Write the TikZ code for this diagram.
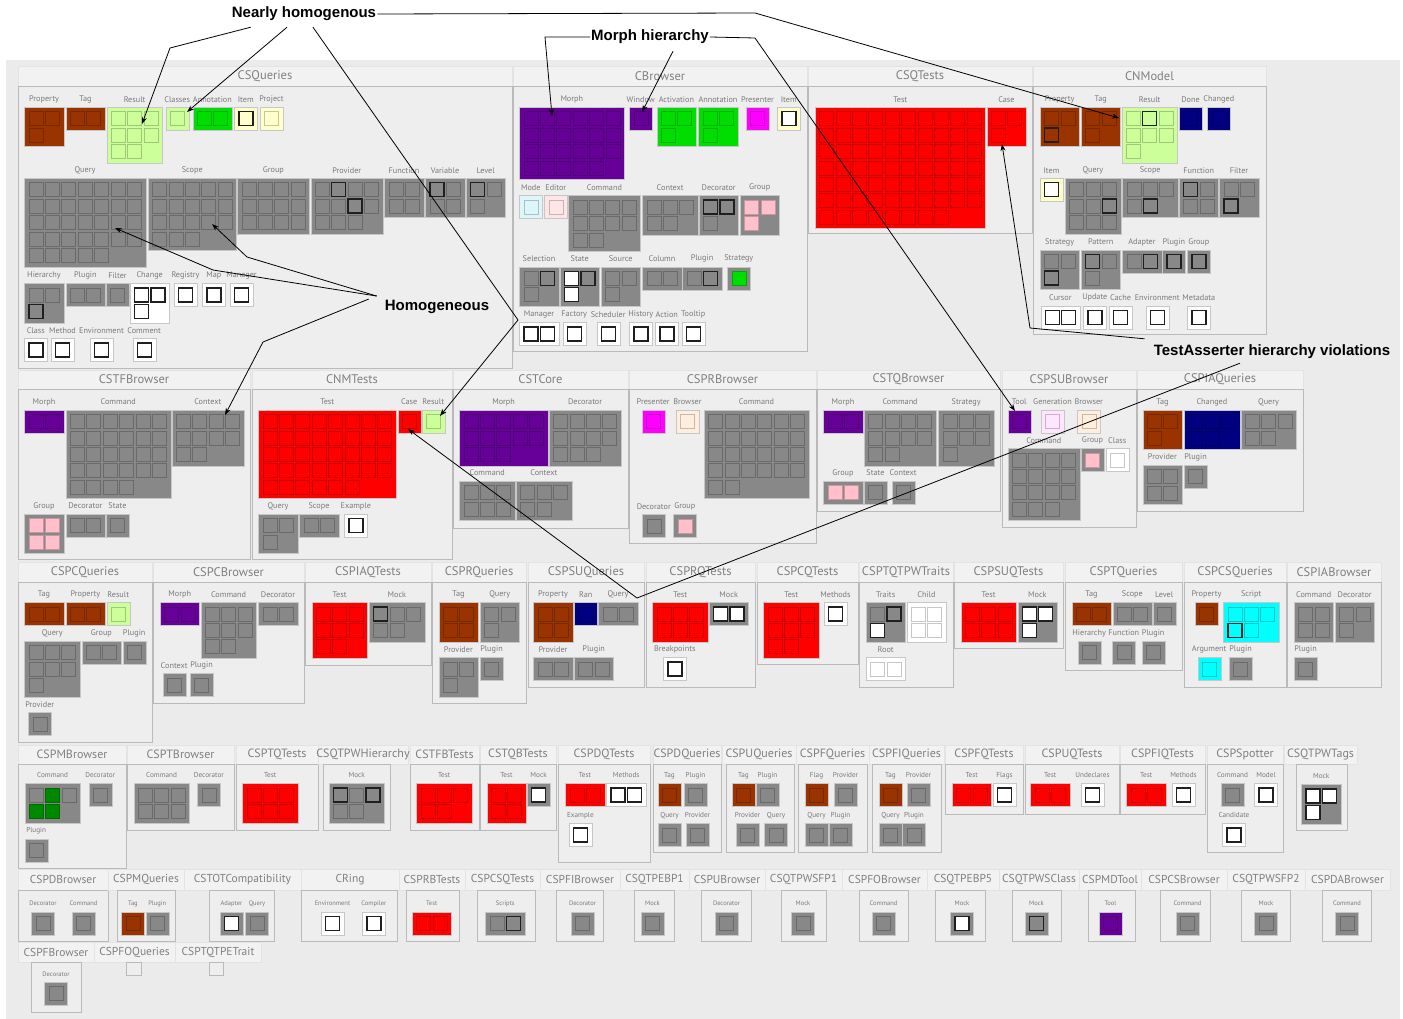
\documentclass[tikz,border=0pt]{standalone}
\usepackage{fontspec}
\usepackage{tikz}
\usetikzlibrary{arrows.meta,calc}
\newfontfamily\lblfont{PT Sans}
\newfontfamily\callfont{Liberation Sans}
\definecolor{cBg}{HTML}{EBEBEB}
\definecolor{cBrown}{HTML}{993300}
\definecolor{cLGreen}{HTML}{CCFF99}
\definecolor{cGreen}{HTML}{00DD00}
\definecolor{cDGreen}{HTML}{008800}
\definecolor{cCream}{HTML}{FFFFCC}
\definecolor{cPurple}{HTML}{660099}
\definecolor{cMagenta}{HTML}{FF00FF}
\definecolor{cLBlue}{HTML}{DDF6FA}
\definecolor{cLPink}{HTML}{FFE6E6}
\definecolor{cPink}{HTML}{FFC0CB}
\definecolor{cRed}{HTML}{FF0000}
\definecolor{cNavy}{HTML}{000080}
\definecolor{cCyan}{HTML}{00FFFF}
\definecolor{cGray}{HTML}{888888}
\definecolor{cPeach}{HTML}{FFEEDD}
\definecolor{cLav}{HTML}{FFE6FF}
\colorlet{labeltext}{black!52}

\newcounter{grpno}
% group: x, y, cols, cells, box colour, cell style, label, special cells k/colour/style
\newcommand{\grp}[8]{%
  \stepcounter{grpno}%
  \pgfmathtruncatemacro{\grows}{ceil(#4/#3)}%
  \pgfmathsetmacro{\gw}{23+16.4*(#3-1)}%
  \pgfmathsetmacro{\gh}{23+16.4*(\grows-1)}%
  \path[grpbox, fill=#5] (#1,#2) rectangle ++(\gw,\gh);%
  \node[grplabel] (g\arabic{grpno}) at ({#1+\gw/2},{#2-8}) {#7};%
  \foreach \k in {1,...,#4}{%
    \pgfmathtruncatemacro{\cc}{mod(\k-1,#3)}%
    \pgfmathtruncatemacro{\rr}{(\k-1)/#3}%
    \path[cell, #6] ({#1+4.5+16.4*\cc},{#2+4.5+16.4*\rr}) rectangle ++(14,14);%
  }%
  \ifx\relax#8\relax\else
    \foreach \k/\f/\s in {#8}{%
      \pgfmathtruncatemacro{\cc}{mod(\k-1,#3)}%
      \pgfmathtruncatemacro{\rr}{(\k-1)/#3}%
      \path[cell, c=\f, \s] ({#1+4.5+16.4*\cc},{#2+4.5+16.4*\rr}) rectangle ++(14,14);%
    }%
  \fi
}
% package: title, strip x1, strip x2, box x1, box x2, strip top, box top, box bottom
\newcommand{\pkg}[8]{%
  \path[pkgstrip] (#2,#6) rectangle (#3,#7);
  \path[pkgbox] (#4,#7) rectangle (#5,#8);
  \node[pkgtitle] (#1) at ({(#2+#3)/2},{(#6+#7)/2}) {#1};
}

\begin{document}
\begin{tikzpicture}[x=1pt, y=-1pt,
  pkgstrip/.style={fill=black!5, draw=black!11, line width=0.5pt},
  pkgbox/.style={fill=black!6.5, draw=black!27, line width=0.8pt},
  pkgtitle/.style={font=\lblfont\fontsize{12.5}{13}\selectfont, text=black!50, inner sep=0pt},
  grpbox/.style={draw=black!22, line width=0.4pt},
  grplabel/.style={font=\lblfont\fontsize{8.2}{9}\selectfont, text=labeltext, inner sep=0pt},
  cell/.style={line width=0.6pt},
  c/.style={fill=#1, draw=#1!78!black},
  hl/.style={draw=black!88, line width=1.4pt},
  pl/.style={},
  callout/.style={font=\callfont\bfseries\fontsize{15}{17}\selectfont, inner sep=1pt},
  leader/.style={draw=black, line width=0.8pt, -{Stealth[length=7pt,width=5pt]}}
]
\useasboundingbox (0,0) rectangle (1403,1019);
\fill[cBg] (6,60) rectangle (1400,1019);

% ---------- Row 1 ----------
\pkg{CSQueries}{18}{512}{18}{512}{66}{86}{368}
\grp{24.3}{107.3}{2}{3}{cBrown}{c=cBrown}{Property}{}
\grp{65.7}{107.3}{2}{2}{cBrown}{c=cBrown}{Tag}{}
\grp{106.7}{107.3}{3}{8}{cLGreen}{c=cLGreen}{Result}{}
\grp{165.7}{107.3}{1}{1}{cLGreen}{c=cLGreen}{Classes}{}
\grp{192.7}{107.3}{2}{2}{cGreen}{c=cGreen}{Annotation}{}
\grp{234.3}{107.3}{1}{1}{cCream}{c=cCream,hl}{Item}{}
\grp{260}{107.3}{1}{1}{cCream}{c=cCream}{Project}{}
\grp{24.3}{178.3}{7}{33}{cGray}{c=cGray}{Query}{}
\grp{148}{178.3}{5}{18}{cGray}{c=cGray}{Scope}{}
\grp{237.3}{178.3}{4}{12}{cGray}{c=cGray}{Group}{}
\grp{310.7}{178.3}{4}{11}{cGray}{c=cGray}{Provider}{2/cGray/hl,7/cGray/hl}
\grp{384.3}{178.3}{2}{4}{cGray}{c=cGray}{Function}{}
\grp{425.3}{178.3}{2}{4}{cGray}{c=cGray}{Variable}{1/cGray/hl}
\grp{466}{178.3}{2}{3}{cGray}{c=cGray}{Level}{1/cGray/hl}
\grp{24.3}{283.3}{2}{3}{cGray}{c=cGray}{Hierarchy}{3/cGray/hl}
\grp{65.7}{283.3}{2}{2}{cGray}{c=cGray}{Plugin}{}
\grp{106}{283.3}{1}{1}{cGray}{c=cGray}{Filter}{}
\grp{130}{283.3}{2}{3}{white}{c=white,hl}{Change}{}
\grp{174}{283.3}{1}{1}{white}{c=white,hl}{Registry}{}
\grp{202.3}{283.3}{1}{1}{white}{c=white,hl}{Map}{}
\grp{230}{283.3}{1}{1}{white}{c=white,hl}{Manager}{}
\grp{24.3}{338.3}{1}{1}{white}{c=white,hl}{Class}{}
\grp{51}{338.3}{1}{1}{white}{c=white,hl}{Method}{}
\grp{90}{338.3}{1}{1}{white}{c=white,hl}{Environment}{}
\grp{132.7}{338.3}{1}{1}{white}{c=white,hl}{Comment}{}

\pkg{CBrowser}{513}{807}{513}{807}{66}{86}{351}
\grp{519.3}{107.3}{6}{23}{cPurple}{c=cPurple}{Morph}{}
\grp{629.3}{107.3}{1}{1}{cPurple}{c=cPurple}{Window}{}
\grp{656.7}{107.3}{2}{3}{cGreen}{c=cGreen}{Activation}{}
\grp{698.3}{107.3}{2}{3}{cGreen}{c=cGreen}{Annotation}{}
\grp{746}{107.3}{1}{1}{cMagenta}{c=cMagenta}{Presenter}{}
\grp{777.3}{107.3}{1}{1}{cCream}{c=white,hl}{Item}{}
\grp{519.3}{195.7}{1}{1}{cLBlue}{c=cLBlue}{Mode}{}
\grp{544.3}{195.7}{1}{1}{cLPink}{c=cLPink}{Editor}{}
\grp{568.3}{195.7}{4}{10}{cGray}{c=cGray}{Command}{}
\grp{642.3}{195.7}{3}{5}{cGray}{c=cGray}{Context}{}
\grp{699}{195.7}{2}{3}{cGray}{c=cGray}{Decorator}{1/cGray/hl,2/cGray/hl}
\grp{740}{195.7}{2}{3}{cGray}{c=cPink}{Group}{}
\grp{519.3}{266.7}{2}{3}{cGray}{c=cGray}{Selection}{2/cGray/hl}
\grp{560}{266.7}{2}{3}{cGray}{c=cGray}{State}{1/white/hl,2/cGray/hl,3/white/hl}
\grp{601}{266.7}{2}{3}{cGray}{c=cGray}{Source}{}
\grp{642.3}{266.7}{2}{2}{cGray}{c=cGray}{Column}{}
\grp{682.3}{266.7}{2}{2}{cGray}{c=cGray}{Plugin}{2/cGray/hl}
\grp{727.3}{266.7}{1}{1}{cGray}{c=cGreen}{Strategy}{}
\grp{519.3}{322.3}{2}{2}{white}{c=white,hl}{Manager}{}
\grp{562.7}{322.3}{1}{1}{white}{c=white,hl}{Factory}{}
\grp{596.7}{322.3}{1}{1}{white}{c=white,hl}{Scheduler}{}
\grp{629.3}{322.3}{1}{1}{white}{c=white,hl}{History}{}
\grp{655.3}{322.3}{1}{1}{white}{c=white,hl}{Action}{}
\grp{681.7}{322.3}{1}{1}{white}{c=white,hl}{Tooltip}{}

\pkg{CSQTests}{808}{1032}{808}{1032}{66}{86}{233}
\grp{815}{107.3}{10}{68}{cRed}{c=cRed}{Test}{}
\grp{986.7}{107.3}{2}{3}{cRed}{c=cRed}{Case}{}

\pkg{CNModel}{1033}{1266}{1033}{1266}{66}{86}{334}
\grp{1040}{107.3}{2}{3}{cBrown}{c=cBrown}{Property}{3/cBrown/hl}
\grp{1081}{107.3}{2}{3}{cBrown}{c=cBrown}{Tag}{}
\grp{1121.7}{107.3}{3}{7}{cLGreen}{c=cLGreen}{Result}{2/cLGreen/hl}
\grp{1179}{107.3}{1}{1}{cNavy}{c=cNavy}{Done}{}
\grp{1207.3}{107.3}{1}{1}{cNavy}{c=cNavy}{Changed}{}
\grp{1040}{178.3}{1}{1}{cCream}{c=white,hl}{Item}{}
\grp{1065}{178.3}{3}{9}{cGray}{c=cGray}{Query}{6/cGray/hl}
\grp{1122.3}{178.3}{3}{5}{cGray}{c=cGray}{Scope}{5/cGray/hl}
\grp{1179}{178.3}{2}{4}{cGray}{c=cGray}{Function}{1/cGray/hl}
\grp{1219.3}{178.3}{2}{3}{cGray}{c=cGray}{Filter}{3/cGray/hl}
\grp{1040}{250}{2}{3}{cGray}{c=cGray}{Strategy}{3/cGray/hl}
\grp{1081}{250}{2}{3}{cGray}{c=cGray}{Pattern}{1/cGray/hl}
\grp{1122.3}{250}{2}{2}{cGray}{c=cGray}{Adapter}{2/cGray/hl}
\grp{1162.3}{250}{1}{1}{cGray}{c=cGray,hl}{Plugin}{}
\grp{1187.3}{250}{1}{1}{cGray}{c=cGray,hl}{Group}{}
\grp{1040.7}{305.7}{2}{2}{white}{c=white,hl}{Cursor}{}
\grp{1083.3}{305.7}{1}{1}{white}{c=white,hl}{Update}{}
\grp{1109}{305.7}{1}{1}{white}{c=white,hl}{Cache}{}
\grp{1145.7}{305.7}{1}{1}{white}{c=white,hl}{Environment}{}
\grp{1187.3}{305.7}{1}{1}{white}{c=white,hl}{Metadata}{}

% ---------- Row 2 ----------
\pkg{CSTFBrowser}{18}{250}{18}{250}{370}{389}{559}
\grp{24.3}{410}{2}{2}{cPurple}{c=cPurple}{Morph}{}
\grp{65.7}{410}{6}{28}{cGray}{c=cGray}{Command}{}
\grp{171.7}{410}{4}{10}{cGray}{c=cGray}{Context}{}
\grp{24.3}{514}{2}{4}{cGray}{c=cPink}{Group}{}
\grp{65.7}{514}{2}{2}{cGray}{c=cGray}{Decorator}{}
\grp{106}{514}{1}{1}{cGray}{c=cGray}{State}{}

\pkg{CNMTests}{252}{452}{252}{452}{370}{389}{559}
\grp{258.3}{410}{8}{38}{cRed}{c=cRed}{Test}{}
\grp{397.7}{410}{1}{1}{cRed}{c=cRed}{Case}{}
\grp{421.7}{410}{1}{1}{cLGreen}{c=cLGreen}{Result}{}
\grp{258.3}{514}{2}{3}{cGray}{c=cGray}{Query}{}
\grp{299.3}{514}{2}{2}{cGray}{c=cGray}{Scope}{}
\grp{344.3}{514}{1}{1}{white}{c=white,hl}{Example}{}

\pkg{CSTCore}{453}{628}{453}{628}{370}{389}{528}
\grp{459.3}{410}{5}{13}{cPurple}{c=cPurple}{Morph}{}
\grp{549}{410}{4}{11}{cGray}{c=cGray}{Decorator}{}
\grp{459.3}{481}{3}{6}{cGray}{c=cGray}{Command}{}
\grp{516}{481}{3}{5}{cGray}{c=cGray}{Context}{}

\pkg{CSPRBrowser}{629}{816}{629}{816}{370}{389}{543}
\grp{641.7}{410}{1}{1}{cMagenta}{c=cMagenta}{Presenter}{}
\grp{676}{410}{1}{1}{cPeach}{c=cPeach}{Browser}{}
\grp{704}{410}{6}{26}{cGray}{c=cGray}{Command}{}
\grp{642.3}{514.3}{1}{1}{cGray}{c=cGray}{Decorator}{}
\grp{673.3}{514.3}{1}{1}{cGray}{c=cPink}{Group}{}

\pkg{CSTQBrowser}{817}{1000}{817}{1000}{370}{389}{511}
\grp{823.3}{410}{2}{2}{cPurple}{c=cPurple}{Morph}{}
\grp{864}{410}{4}{10}{cGray}{c=cGray}{Command}{}
\grp{938.3}{410}{3}{7}{cGray}{c=cGray}{Strategy}{}
\grp{823.3}{481}{2}{2}{cGray}{c=cPink}{Group}{}
\grp{864}{481}{1}{1}{cGray}{c=cGray}{State}{}
\grp{891.7}{481}{1}{1}{cGray}{c=cGray}{Context}{}

\pkg{CSPSUBrowser}{1002}{1136}{1002}{1136}{370}{389}{527}
\grp{1007.7}{410}{1}{1}{cPurple}{c=cPurple}{Tool}{}
\grp{1041}{410}{1}{1}{cLav}{c=cLav}{Generation}{}
\grp{1077.3}{410}{1}{1}{cPeach}{c=cPeach}{Browser}{}
\grp{1007.7}{448.3}{4}{15}{cGray}{c=cGray}{Command}{}
\grp{1081}{448.3}{1}{1}{cGray}{c=cPink}{Group}{}
\grp{1105.7}{448.3}{1}{1}{white}{c=white}{Class}{}

\pkg{CSPIAQueries}{1137}{1303}{1137}{1303}{370}{389}{511}
\grp{1142.7}{410}{2}{3}{cBrown}{c=cBrown}{Tag}{}
\grp{1184}{410}{3}{5}{cNavy}{c=cNavy}{Changed}{}
\grp{1240.7}{410}{3}{5}{cGray}{c=cGray}{Query}{}
\grp{1142.7}{465}{2}{4}{cGray}{c=cGray}{Provider}{}
\grp{1184}{465}{1}{1}{cGray}{c=cGray}{Plugin}{}

% ---------- Row 3 ----------
\pkg{CSPCQueries}{18}{152}{18}{152}{562}{582}{742}
\grp{24.3}{602.3}{2}{2}{cBrown}{c=cBrown}{Tag}{}
\grp{65.7}{602.3}{2}{2}{cBrown}{c=cBrown}{Property}{}
\grp{106.7}{602.3}{1}{1}{cLGreen}{c=cLGreen}{Result}{}
\grp{24.3}{641}{3}{7}{cGray}{c=cGray}{Query}{}
\grp{81.7}{641}{2}{2}{cGray}{c=cGray}{Group}{}
\grp{122.7}{641}{1}{1}{cGray}{c=cGray}{Plugin}{}
\grp{28.3}{712.3}{1}{1}{cGray}{c=cGray}{Provider}{}

\pkg{CSPCBrowser}{153}{304}{153}{304}{562}{582}{703}
\grp{160}{602.3}{2}{2}{cPurple}{c=cPurple}{Morph}{}
\grp{200.7}{602.3}{3}{8}{cGray}{c=cGray}{Command}{}
\grp{258.3}{602.3}{2}{2}{cGray}{c=cGray}{Decorator}{}
\grp{162.7}{673.3}{1}{1}{cGray}{c=cGray}{Context}{}
\grp{190}{673.3}{1}{1}{cGray}{c=cGray}{Plugin}{}

\pkg{CSPIAQTests}{305}{431}{305}{431}{562}{582}{665}
\grp{311.7}{602.3}{3}{8}{cRed}{c=cRed}{Test}{}
\grp{369}{602.3}{3}{5}{cGray}{c=cGray}{Mock}{1/cGray/hl}

\pkg{CSPRQueries}{432}{526}{432}{526}{562}{582}{703}
\grp{438.7}{602.3}{2}{4}{cBrown}{c=cBrown}{Tag}{}
\grp{480}{602.3}{2}{3}{cGray}{c=cGray}{Query}{}
\grp{438.7}{657.3}{2}{3}{cGray}{c=cGray}{Provider}{}
\grp{480}{657.3}{1}{1}{cGray}{c=cGray}{Plugin}{}

\pkg{CSPSUQueries}{528}{644}{528}{644}{562}{582}{687}
\grp{533.3}{602.3}{2}{4}{cBrown}{c=cBrown}{Property}{}
\grp{574.3}{602.3}{1}{1}{cNavy}{c=cNavy}{Ran}{}
\grp{598.3}{602.3}{2}{2}{cGray}{c=cGray}{Query}{}
\grp{533.3}{657.3}{2}{2}{cGray}{c=cGray}{Provider}{}
\grp{574}{657.3}{2}{2}{cGray}{c=cGray}{Plugin}{}

\pkg{CSPRQTests}{646}{755}{646}{755}{562}{582}{687}
\grp{652.3}{602.3}{3}{6}{cRed}{c=cRed}{Test}{}
\grp{709}{602.3}{2}{2}{cGray}{c=white,hl}{Mock}{}
\grp{663.3}{657.3}{1}{1}{white}{c=white,hl}{Breakpoints}{}

\pkg{CSPCQTests}{757}{858}{757}{858}{562}{582}{664}
\grp{763.3}{602.3}{3}{8}{cRed}{c=cRed}{Test}{}
\grp{824}{602.3}{1}{1}{white}{c=white,hl}{Methods}{}

\pkg{CSPTQTPWTraits}{859}{953}{859}{953}{562}{582}{687}
\grp{866}{602.3}{2}{3}{cGray}{c=cGray}{Traits}{2/cGray/hl,3/white/hl}
\grp{906.7}{602.3}{2}{4}{white}{c=white}{Child}{}
\grp{866}{657.3}{2}{2}{white}{c=white}{Root}{}

\pkg{CSPSUQTests}{954}{1063}{954}{1063}{562}{582}{648}
\grp{960.7}{602.3}{3}{6}{cRed}{c=cRed}{Test}{}
\grp{1017.7}{602.3}{2}{3}{cGray}{c=white,hl}{Mock}{}

\pkg{CSPTQueries}{1065}{1182}{1065}{1182}{562}{582}{670}
\grp{1071.7}{602.3}{2}{2}{cBrown}{c=cBrown}{Tag}{}
\grp{1112.7}{602.3}{2}{2}{cGray}{c=cGray}{Scope}{}
\grp{1152.7}{602.3}{1}{1}{cGray}{c=cGray}{Level}{}
\grp{1077.7}{641}{1}{1}{cGray}{c=cGray}{Hierarchy}{}
\grp{1112.3}{641}{1}{1}{cGray}{c=cGray}{Function}{}
\grp{1141.7}{641}{1}{1}{cGray}{c=cGray}{Plugin}{}

\pkg{CSPCSQueries}{1184}{1286}{1184}{1286}{562}{582}{687}
\grp{1195}{602.3}{1}{1}{cBrown}{c=cBrown}{Property}{}
\grp{1223.3}{602.3}{3}{5}{cCyan}{c=cCyan}{Script}{4/cCyan/hl}
\grp{1197.7}{657.3}{1}{1}{cCyan}{c=cCyan}{Argument}{}
\grp{1229}{657.3}{1}{1}{cGray}{c=cGray}{Plugin}{}

\pkg{CSPIABrowser}{1287}{1381}{1287}{1381}{562}{582}{687}
\grp{1294}{602.3}{2}{4}{cGray}{c=cGray}{Command}{}
\grp{1335}{602.3}{2}{3}{cGray}{c=cGray}{Decorator}{}
\grp{1294}{657.3}{1}{1}{cGray}{c=cGray}{Plugin}{}

% ---------- Row 4 ----------
\begin{scope}[pkgtitle/.append style={font=\lblfont\fontsize{12}{13}\selectfont},
              grplabel/.append style={font=\lblfont\fontsize{7.2}{8}\selectfont}]
\pkg{CSPMBrowser}{18}{126}{18}{126}{745}{764}{868}
\grp{24.7}{783.3}{3}{5}{cGray}{c=cGray}{Command}{2/cDGreen/pl,4/cDGreen/pl,5/cDGreen/pl}
\grp{88.8}{783.3}{1}{1}{cGray}{c=cGray}{Decorator}{}
\grp{24.7}{839}{1}{1}{cGray}{c=cGray}{Plugin}{}
\pkg{CSPTBrowser}{127}{234}{127}{234}{745}{764}{830}
\grp{133.7}{783.3}{3}{6}{cGray}{c=cGray}{Command}{}
\grp{197.4}{783.3}{1}{1}{cGray}{c=cGray}{Decorator}{}
\pkg{CSPTQTests}{236}{318}{236}{318}{745}{764}{830}
\grp{242.3}{783.3}{3}{6}{cRed}{c=cRed}{Test}{}
\pkg{CSQTPWHierarchy}{318}{408}{323}{390}{745}{764}{830}
\grp{328.8}{783.3}{3}{5}{cGray}{c=cGray}{Mock}{1/cGray/hl,3/cGray/hl}
\pkg{CSTFBTests}{410}{479}{410}{479}{745}{764}{830}
\grp{416.3}{783.3}{3}{5}{cRed}{c=cRed}{Test}{}
\pkg{CSTQBTests}{480}{556}{480}{556}{745}{764}{830}
\grp{486.8}{783.3}{2}{4}{cRed}{c=cRed}{Test}{}
\grp{527.1}{783.3}{1}{1}{cGray}{c=white,hl}{Mock}{}
\pkg{CSPDQTests}{558}{650}{558}{650}{745}{764}{862}
\grp{565.3}{783.3}{2}{2}{cRed}{c=cRed}{Test}{}
\grp{606.5}{783.3}{2}{2}{white}{c=white,hl}{Methods}{}
\grp{568.9}{823.3}{1}{1}{white}{c=white,hl}{Example}{}
\pkg{CSPDQueries}{653}{721}{653}{721}{745}{764}{852}
\grp{658}{783.3}{1}{1}{cBrown}{c=cBrown}{Tag}{}
\grp{684}{783.3}{1}{1}{cGray}{c=cGray}{Plugin}{}
\grp{658}{823.3}{1}{1}{cGray}{c=cGray}{Query}{}
\grp{686}{823.3}{1}{1}{cGray}{c=cGray}{Provider}{}
\pkg{CSPUQueries}{722}{796}{726}{794}{745}{764}{852}
\grp{732}{783.3}{1}{1}{cBrown}{c=cBrown}{Tag}{}
\grp{756}{783.3}{1}{1}{cGray}{c=cGray}{Plugin}{}
\grp{736}{823.3}{1}{1}{cGray}{c=cGray}{Provider}{}
\grp{764.5}{823.3}{1}{1}{cGray}{c=cGray}{Query}{}
\pkg{CSPFQueries}{796}{869}{798}{867}{745}{764}{852}
\grp{805}{783.3}{1}{1}{cBrown}{c=cBrown}{Flag}{}
\grp{834}{783.3}{1}{1}{cGray}{c=cGray}{Provider}{}
\grp{805}{823.3}{1}{1}{cGray}{c=cGray}{Query}{}
\grp{829}{823.3}{1}{1}{cGray}{c=cGray}{Plugin}{}
\pkg{CSPFIQueries}{869}{944}{872}{941}{745}{764}{852}
\grp{879}{783.3}{1}{1}{cBrown}{c=cBrown}{Tag}{}
\grp{907}{783.3}{1}{1}{cGray}{c=cGray}{Provider}{}
\grp{879}{823.3}{1}{1}{cGray}{c=cGray}{Query}{}
\grp{902.5}{823.3}{1}{1}{cGray}{c=cGray}{Plugin}{}
\pkg{CSPFQTests}{945}{1023}{945}{1023}{745}{764}{814}
\grp{952}{783.3}{2}{2}{cRed}{c=cRed}{Test}{}
\grp{993}{783.3}{1}{1}{white}{c=white,hl}{Flags}{}
\pkg{CSPUQTests}{1025}{1119}{1025}{1119}{745}{764}{814}
\grp{1030.5}{783.3}{2}{2}{cRed}{c=cRed}{Test}{}
\grp{1081}{783.3}{1}{1}{white}{c=white,hl}{Undeclares}{}
\pkg{CSPFIQTests}{1120}{1205}{1120}{1205}{745}{764}{814}
\grp{1126.5}{783.3}{2}{2}{cRed}{c=cRed}{Test}{}
\grp{1172}{783.3}{1}{1}{white}{c=white,hl}{Methods}{}
\pkg{CSPSpotter}{1207}{1283}{1207}{1283}{745}{764}{852}
\grp{1221}{783.3}{1}{1}{cGray}{c=cGray}{Command}{}
\grp{1254.5}{783.3}{1}{1}{white}{c=white,hl}{Model}{}
\grp{1222.5}{823.3}{1}{1}{white}{c=white,hl}{Candidate}{}
\pkg{CSQTPWTags}{1284}{1357}{1296}{1347}{745}{764}{830}
\grp{1301.5}{784.3}{2}{3}{cGray}{c=white,hl}{Mock}{}
\end{scope}

% ---------- Rows 5 and 6 ----------
\begin{scope}[pkgtitle/.append style={font=\lblfont\fontsize{11.5}{12}\selectfont},
              grplabel/.append style={font=\lblfont\fontsize{6.5}{7}\selectfont}]
\pkg{CSPDBrowser}{18}{108}{18}{108}{869}{890}{941}
\grp{31.5}{911.7}{1}{1}{cGray}{c=cGray}{Decorator}{}
\grp{72}{911.7}{1}{1}{cGray}{c=cGray}{Command}{}
\pkg{CSPMQueries}{108}{184}{117}{175}{869}{890}{941}
\grp{121.4}{911.7}{1}{1}{cBrown}{c=cBrown}{Tag}{}
\grp{145.7}{911.7}{1}{1}{cGray}{c=cGray}{Plugin}{}
\pkg{CSTOTCompatibility}{184}{301}{209}{274}{869}{890}{941}
\grp{220}{911.7}{1}{1}{cGray}{c=white,hl}{Adapter}{}
\grp{245.5}{911.7}{1}{1}{cGray}{c=cGray}{Query}{}
\pkg{CRing}{301}{399}{301}{397}{869}{890}{941}
\grp{321}{911.7}{1}{1}{white}{c=white,hl}{Environment}{}
\grp{362.4}{911.7}{1}{1}{white}{c=white,hl}{Compiler}{}
\pkg{CSPRBTests}{399}{465}{406}{459}{869}{890}{941}
\grp{412}{911.7}{2}{2}{cRed}{c=cRed}{Test}{}
\pkg{CSPCSQTests}{465}{540}{477}{535}{869}{890}{941}
\grp{485.6}{911.7}{2}{2}{cGray}{c=cGray}{Scripts}{2/cGray/hl}
\pkg{CSPFIBrowser}{540}{620}{556}{603}{869}{890}{941}
\grp{571}{911.7}{1}{1}{cGray}{c=cGray}{Decorator}{}
\pkg{CSQTPEBP1}{620}{689}{634}{674}{869}{890}{941}
\grp{641}{911.7}{1}{1}{cGray}{c=cGray}{Mock}{}
\pkg{CSPUBrowser}{689}{765}{701}{751}{869}{890}{941}
\grp{715}{911.7}{1}{1}{cGray}{c=cGray}{Decorator}{}
\pkg{CSQTPWSFP1}{765}{842}{781}{826}{869}{890}{941}
\grp{791.5}{911.7}{1}{1}{cGray}{c=cGray}{Mock}{}
\pkg{CSPFOBrowser}{842}{927}{859}{908}{869}{890}{941}
\grp{872}{911.7}{1}{1}{cGray}{c=cGray}{Command}{}
\pkg{CSQTPEBP5}{927}{999}{935}{985}{869}{890}{941}
\grp{950.5}{911.7}{1}{1}{cGray}{c=white,hl}{Mock}{}
\pkg{CSQTPWSClass}{999}{1079}{1012}{1061}{869}{890}{941}
\grp{1025}{911.7}{1}{1}{cGray}{c=cGray,hl}{Mock}{}
\pkg{CSPMDTool}{1079}{1141}{1088}{1135}{869}{890}{941}
\grp{1099}{911.7}{1}{1}{cPurple}{c=cPurple}{Tool}{}
\pkg{CSPCSBrowser}{1141}{1227}{1160}{1210}{869}{890}{941}
\grp{1176}{911.7}{1}{1}{cGray}{c=cGray}{Command}{}
\pkg{CSQTPWSFP2}{1227}{1305}{1241}{1290}{869}{890}{941}
\grp{1254.5}{911.7}{1}{1}{cGray}{c=cGray}{Mock}{}
\pkg{CSPDABrowser}{1305}{1390}{1322}{1371}{869}{890}{941}
\grp{1335.5}{911.7}{1}{1}{cGray}{c=cGray}{Command}{}
\pkg{CSPFBrowser}{18}{94}{31}{81}{942}{962}{1012}
\grp{44.5}{982}{1}{1}{cGray}{c=cGray}{Decorator}{}
\pkg{CSPFOQueries}{94}{175}{126}{141}{942}{962}{975}
\pkg{CSPTQTPETrait}{175}{261}{209}{223}{942}{962}{975}
\end{scope}

% ---------- Callouts ----------
\node[callout] (nearly) at (304,14) {Nearly homogenous};
\node[callout] (morphh) at (650,37) {Morph hierarchy};
\node[callout] (homog) at (437,307) {Homogeneous};
\node[callout] (tah) at (1272,352) {TestAsserter hierarchy violations};

\coordinate (kA) at (170,48);
\coordinate (kB) at (518,320);
\coordinate (kC) at (755,13);
\coordinate (kD) at (545,37);
\coordinate (kE) at (755,38);
\coordinate (kF) at (213,270);
\coordinate (kG) at (247,257);
\coordinate (kH) at (263,342);
\coordinate (kI) at (1030,328);
\coordinate (kJ) at (637,598);

\coordinate (tResCSQ) at (142,124);
\coordinate (tClsCSQ) at (187,112);
\coordinate (tResCNM) at (440,416);
\coordinate (tResCNModel) at (1119,118);
\coordinate (tMorphCB) at (552,116);
\coordinate (tWinCB) at (642,112);
\coordinate (tToolSU) at (1015,411);
\coordinate (tQryCSQ) at (115,228);
\coordinate (tScpCSQ) at (212,224);
\coordinate (tCtxTF) at (225,415);
\coordinate (tCaseQT) at (1002,144);
\coordinate (tCaseNM) at (408,429);

% ---------- Leaders ----------
\draw[leader] ($(nearly.south west)+(20,5)$) -- (kA) -- (tResCSQ);
\draw[leader] ($(nearly.south)+(-17,5)$) -- (tClsCSQ);
\draw[leader] ($(nearly.south)+(9,5)$) -- (kB) -- (tResCNM);
\draw[leader] (nearly.east) -- (kC) -- (tResCNModel);
\draw[leader] (morphh.west) -- (kD) -- (tMorphCB);
\draw[leader] ($(morphh.south)+(23,6)$) -- (tWinCB);
\draw[leader] (morphh.east) -- (kE) -- (tToolSU);
\draw[leader] ($(homog.north west)+(-7,-3)$) -- (kF) -- (tQryCSQ);
\draw[leader] ($(homog.north west)+(-7,-3)$) -- (kG) -- (tScpCSQ);
\draw[leader] ($(homog.north west)+(-15,0)$) -- (kH) -- (tCtxTF);
\draw[leader] ($(tah.north west)+(-8,-5)$) -- (kI) -- (tCaseQT);
\draw[leader] ($(tah.south)+(-32,3)$) -- (kJ) -- (tCaseNM);

\end{tikzpicture}
\end{document}
